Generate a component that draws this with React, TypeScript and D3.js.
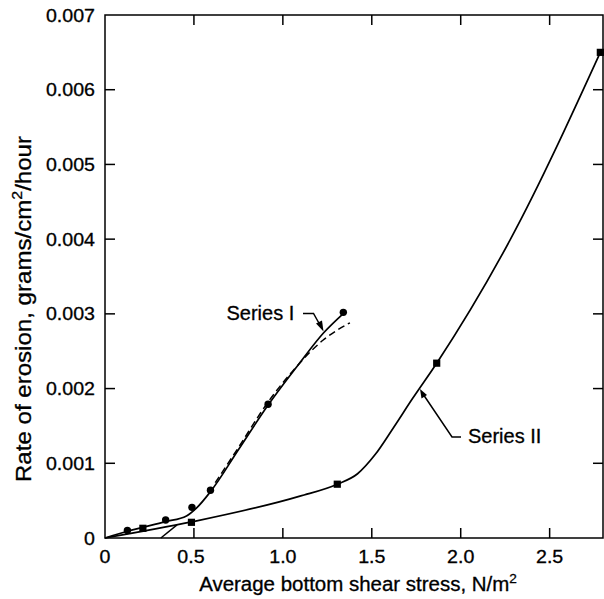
import React from "react";
import * as d3 from "d3";

// ---- data ----
const xTicks = [0, 0.5, 1.0, 1.5, 2.0, 2.5];
const xTickLabels = ["0", "0.5", "1.0", "1.5", "2.0", "2.5"];
const yTicks = [0, 0.001, 0.002, 0.003, 0.004, 0.005, 0.006, 0.007];
const yTickLabels = ["0", "0.001", "0.002", "0.003", "0.004", "0.005", "0.006", "0.007"];

// Series I measured points (circles)
const seriesIX = [0.126, 0.341, 0.489, 0.593, 0.917, 1.34];
const seriesIY = [0.0001, 0.00024, 0.00041, 0.00064, 0.00179, 0.00302];
// Series I fitted solid curve
const seriesIFitX = [0, 0.126, 0.341, 0.458, 0.514, 0.593, 0.75, 0.917, 1.1, 1.227, 1.343];
const seriesIFitY = [0, 0.00009, 0.00022, 0.000295, 0.0004, 0.00062, 0.00118, 0.00178, 0.00236, 0.00274, 0.00301];
// Series I dashed curve
const seriesIDashX = [0.62, 0.75, 0.917, 1.05, 1.227, 1.377];
const seriesIDashY = [0.00074, 0.00121, 0.00182, 0.00222, 0.00265, 0.00288];

// Series II measured points (squares)
const seriesIIX = [0.213, 0.486, 1.306, 1.865, 2.785];
const seriesIIY = [0.00013, 0.00021, 0.00072, 0.00234, 0.0065];
// Series II fitted curve
const seriesIIFitX = [0, 0.486, 1.096, 1.306, 1.42, 1.52, 1.62, 1.73, 1.865, 2.28, 2.785];
const seriesIIFitY = [0, 0.000215, 0.00056, 0.00072, 0.00086, 0.00112, 0.00147, 0.00187, 0.00234, 0.004, 0.0065];
// extrapolation segment near origin
const extraX = [0.314, 0.405];
const extraY = [0, 0.000175];

const W = 604;
const H = 599;
const M = { left: 105, right: 1, top: 15, bottom: 61 };

export default function App() {
  const x = d3.scaleLinear().domain([0, 2.8]).range([M.left, W - M.right]);
  const y = d3.scaleLinear().domain([0, 0.007]).range([H - M.bottom, M.top]);

  const zip = (xs: number[], ys: number[]) => xs.map((v, i) => [v, ys[i]] as [number, number]);
  const curve = d3
    .line<[number, number]>()
    .x((d) => x(d[0]))
    .y((d) => y(d[1]))
    .curve(d3.curveMonotoneX);
  const straight = d3
    .line<[number, number]>()
    .x((d) => x(d[0]))
    .y((d) => y(d[1]));

  const font = "'Liberation Sans', Arial, Helvetica, sans-serif";
  const x0 = x(0), x1 = x(2.8), y0 = y(0), y1 = y(0.007);
  const tickLen = 10;
  const txt = { fill: "#000", stroke: "#000", strokeWidth: 0.3 };

  return (
    <svg
      width={W}
      height={H}
      style={{ position: "absolute", left: 0, top: 0, background: "#fff" }}
      fontFamily={font}
    >
      {/* frame */}
      <rect x={x0} y={y1} width={x1 - x0} height={y0 - y1} fill="none" stroke="#000" strokeWidth={1.5} />
      {/* x ticks */}
      {xTicks.map((t, i) => (
        <g key={"xt" + i}>
          {t > 0 && (
            <>
              <line x1={x(t)} x2={x(t)} y1={y0} y2={y0 - tickLen} stroke="#000" strokeWidth={1.5} />
              <line x1={x(t)} x2={x(t)} y1={y1} y2={y1 + tickLen} stroke="#000" strokeWidth={1.5} />
            </>
          )}
          <text
            transform={`translate(${x(t) - (t === 0.5 ? 3 : 0)}, ${y0 + 25}) scale(1.09,1)`}
            textAnchor="middle"
            fontSize={18}
            {...txt}
          >
            {xTickLabels[i]}
          </text>
        </g>
      ))}
      {/* y ticks */}
      {yTicks.map((t, i) => (
        <g key={"yt" + i}>
          {t > 0 && t < 0.007 && (
            <>
              <line x1={x0} x2={x0 + tickLen} y1={y(t)} y2={y(t)} stroke="#000" strokeWidth={1.5} />
              <line x1={x1} x2={x1 - tickLen} y1={y(t)} y2={y(t)} stroke="#000" strokeWidth={1.5} />
            </>
          )}
          <text
            transform={`translate(${x0 - 10}, ${y(t) + 6.5}) scale(1.09,1)`}
            textAnchor="end"
            fontSize={18}
            {...txt}
          >
            {yTickLabels[i]}
          </text>
        </g>
      ))}

      {/* curves */}
      <path d={curve(zip(seriesIFitX, seriesIFitY)) || ""} fill="none" stroke="#000" strokeWidth={1.7} />
      <path
        d={curve(zip(seriesIDashX, seriesIDashY)) || ""}
        fill="none"
        stroke="#000"
        strokeWidth={1.5}
        strokeDasharray="7,4"
      />
      <path d={curve(zip(seriesIIFitX, seriesIIFitY)) || ""} fill="none" stroke="#000" strokeWidth={1.7} />
      <path d={straight(zip(extraX, extraY)) || ""} fill="none" stroke="#000" strokeWidth={1.5} />

      {/* markers */}
      {seriesIX.map((v, i) => (
        <circle key={"c" + i} cx={x(v)} cy={y(seriesIY[i])} r={3.7} fill="#000" />
      ))}
      {seriesIIX.map((v, i) => (
        <rect key={"s" + i} x={x(v) - 3.6} y={y(seriesIIY[i]) - 3.6} width={7.2} height={7.2} fill="#000" />
      ))}

      {/* Series I label */}
      <text x={226.5} y={319.5} fontSize={20} {...txt}>Series I</text>
      <path d="M303,313.5 L313.5,313.5 L320,325" fill="none" stroke="#000" strokeWidth={1.5} />
      <path d="M323.5,331.5 L316,323.5 L322,320.5 Z" fill="#000" />

      {/* Series II label */}
      <text x={468} y={442.5} fontSize={20} {...txt}>Series II</text>
      <path d="M461,437 L452,437 L423,394" fill="none" stroke="#000" strokeWidth={1.5} />
      <path d="M420,389 L427,395 L421.5,398.5 Z" fill="#000" />

      {/* axis titles */}
      <text
        transform={`translate(358, 591) scale(1.05,1)`}
        textAnchor="middle"
        fontSize={19.5}
        {...txt}
      >
        Average bottom shear stress, N/m
        <tspan dy={-8} fontSize={13}>2</tspan>
      </text>
      <text
        transform={`translate(31, 309) rotate(-90) scale(1.07,1)`}
        textAnchor="middle"
        fontSize={22.5}
        {...txt}
      >
        Rate of erosion, grams/cm
        <tspan dy={-9} fontSize={15}>2</tspan>
        <tspan dy={9}>/hour</tspan>
      </text>
    </svg>
  );
}
